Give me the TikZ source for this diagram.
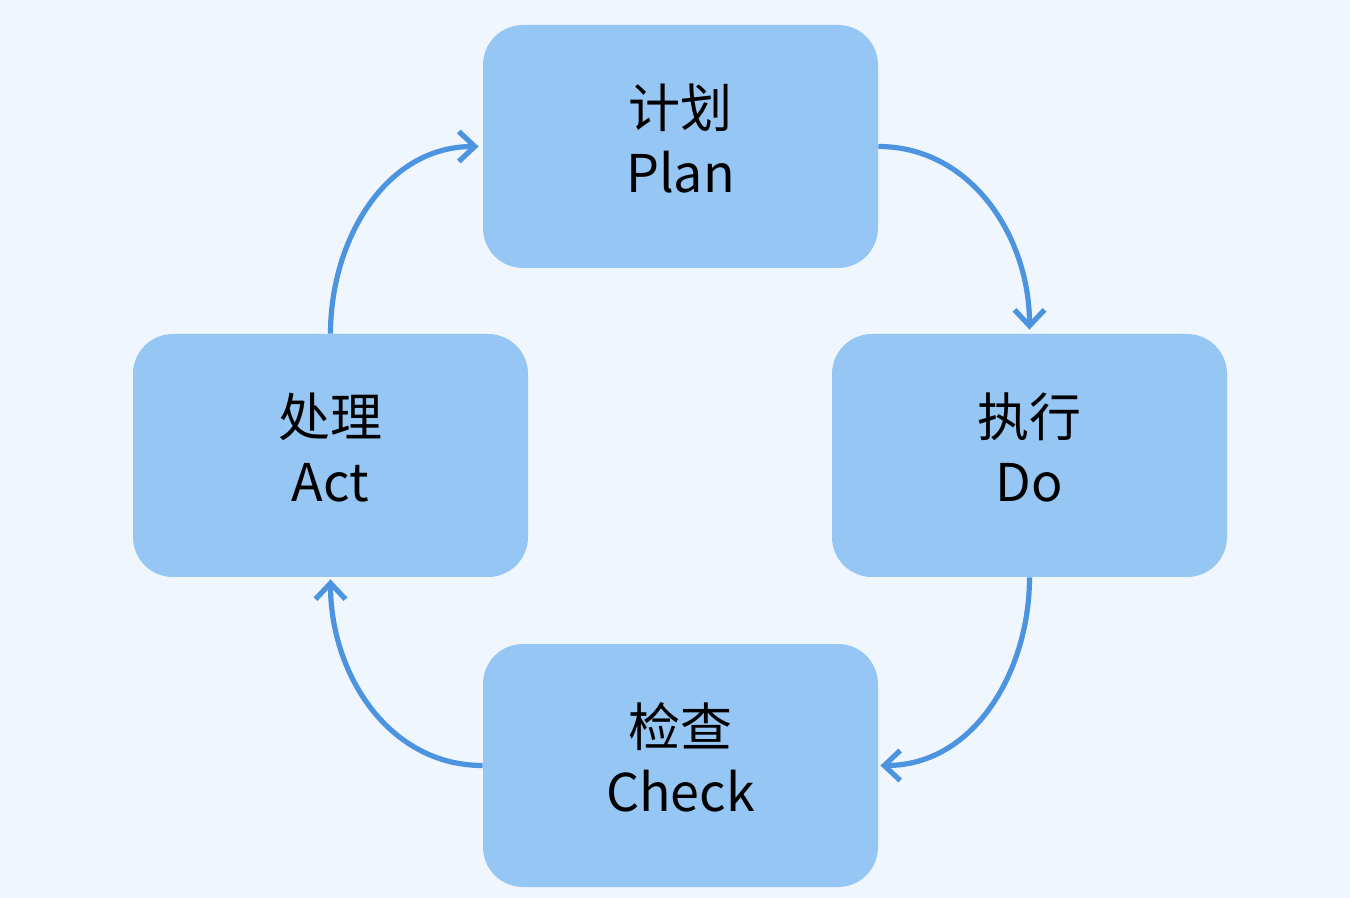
\documentclass[tikz,border=0pt]{standalone}
\usepackage{fontspec}
\newfontfamily\cjk{Noto Sans CJK SC}
\usetikzlibrary{arrows.meta,positioning}
\definecolor{bgc}{HTML}{EFF6FD}
\definecolor{boxc}{HTML}{95C6F4}
\definecolor{arc}{HTML}{4C93E0}

\begin{document}
\begin{tikzpicture}[x=0.5pt,y=-0.5pt,font=\cjk\fontsize{26}{32.5}\selectfont,
  >={Straight Barb[length=8pt,width=15pt,line width=2.6pt]},
  b/.style={fill=boxc,rounded corners=20pt,align=center,minimum width=197.5pt,minimum height=121.5pt,text=black!88},
  a/.style={->,draw=arc,line width=2.6pt}]
\fill[bgc](0,0) rectangle (1350,898);
\useasboundingbox (0,0) rectangle (1350,898);
\node[b](plan) at (680.5,146.5){};
\node[b](do) at (1029.5,455.5){};
\node[b](chk) at (680.5,765.5){};
\node[b](act) at (330.5,455.5){};
\node[align=center](tplan) at ([yshift=4pt]plan){计划\\Plan};
\node[align=center](tdo) at ([yshift=4pt]do){执行\\Do};
\node[align=center](tchk) at ([yshift=4pt]chk){检查\\Check};
\node[align=center](tact) at ([yshift=4pt]act){处理\\Act};
\draw[a](plan.east) to[out=0,in=90] ([yshift=2pt]do.north);
\draw[a](do.south) to[out=-90,in=0] ([xshift=1pt]chk.east);
\draw[a](chk.west) to[out=180,in=-90] ([yshift=-1pt]act.south);
\draw[a](act.north) to[out=90,in=180] ([xshift=-2pt]plan.west);
\end{tikzpicture}
\end{document}
